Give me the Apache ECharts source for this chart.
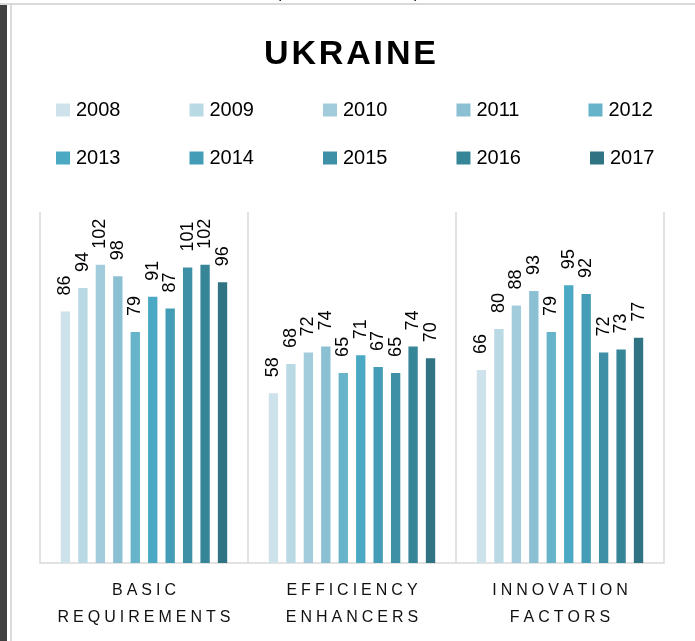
<!DOCTYPE html>
<html>
<head>
<meta charset="utf-8">
<script src="https://cdn.jsdelivr.net/npm/echarts@6/dist/echarts.min.js"></script>
<style>
  html, body { margin: 0; padding: 0; background: #fff; }
  #myChart { width: 695px; height: 641px; }
</style>
</head>
<body>
<div id="myChart"></div>
<script>
const categories = ['BASIC\nREQUIREMENTS', 'EFFICIENCY\nENHANCERS', 'INNOVATION\nFACTORS']
const years = ['2008', '2009', '2010', '2011', '2012', '2013', '2014', '2015', '2016', '2017']
const basicRequirements = [86, 94, 102, 98, 79, 91, 87, 101, 102, 96]
const efficiencyEnhancers = [58, 68, 72, 74, 65, 71, 67, 65, 74, 70]
const innovationFactors = [66, 80, 88, 93, 79, 95, 92, 72, 73, 77]
const colors = ['#cde2ea', '#b9d9e4', '#a2cbdb', '#8bc0d3', '#67b3ca',
  '#4ba9c4', '#449db6', '#3e90a7', '#378698', '#307484']

const font = 'Liberation Sans, Arial, sans-serif'

// spread letters a bit, the original uses wide tracking
function spaced(text, sp) {
  return text.split('\n').map(line => line.split('').join(sp)).join('\n')
}

const chart = echarts.init(document.getElementById('myChart'))

const series = years.map((year, i) => {
  return {
    name: year,
    type: 'bar',
    data: [basicRequirements[i], efficiencyEnhancers[i], innovationFactors[i]],
    barGap: '87%',
    barCategoryGap: '20%',
    itemStyle: { color: colors[i] },
    label: {
      show: true,
      position: 'top',
      distance: 16,
      rotate: 90,
      align: 'left',
      verticalAlign: 'middle',
      fontFamily: font,
      fontSize: 18,
      color: '#000'
    }
  }
})

const legendBase = {
  left: 56,
  padding: 0,
  itemWidth: 14,
  itemHeight: 13,
  itemGap: 69,
  icon: 'rect',
  selectedMode: false,
  textStyle: { fontFamily: font, fontSize: 20, color: '#000', padding: [0, 0, 0, 1] }
}

chart.setOption({
  animation: false,
  backgroundColor: '#fff',
  color: colors,
  title: {
    text: spaced('UKRAINE', '\u200A'),
    left: 345,
    textAlign: 'center',
    top: 33,
    textStyle: { fontFamily: font, fontSize: 34, fontWeight: 'bold', color: '#000' }
  },
  legend: [
    Object.assign({}, legendBase, { top: 100, data: years.slice(0, 5) }),
    Object.assign({}, legendBase, { top: 148, data: years.slice(5) })
  ],
  grid: {
    left: 40,
    right: 31,
    top: 212,
    bottom: 78
  },
  xAxis: {
    type: 'category',
    data: categories,
    axisLine: { lineStyle: { color: '#d9d9d9', width: 1.5 } },
    axisTick: { show: false },
    splitLine: { show: true, interval: 0, lineStyle: { color: '#d9d9d9', width: 1.5 } },
    axisLabel: {
      interval: 0,
      margin: 14,
      fontFamily: font,
      fontSize: 16,
      lineHeight: 27,
      color: '#111',
      formatter: v => spaced(v, '\u2005')
    }
  },
  yAxis: {
    type: 'value',
    min: 0,
    max: 120,
    show: false
  },
  graphic: [
    { type: 'rect', shape: { x: 0, y: 3, width: 695, height: 2 }, style: { fill: '#d9d9d9' }, silent: true },
    { type: 'rect', shape: { x: 0, y: 5, width: 7, height: 636 }, style: { fill: '#404040' }, silent: true },
    { type: 'rect', shape: { x: 10, y: 5, width: 2, height: 636 }, style: { fill: '#dcdcdc' }, silent: true },
    { type: 'text', left: 276, top: -14, style: { text: '(', fontFamily: font, fontSize: 16, fill: '#000' }, silent: true },
    { type: 'text', left: 414, top: -14, style: { text: ')', fontFamily: font, fontSize: 16, fill: '#000' }, silent: true }
  ],
  series: series
})
</script>
</body>
</html>
